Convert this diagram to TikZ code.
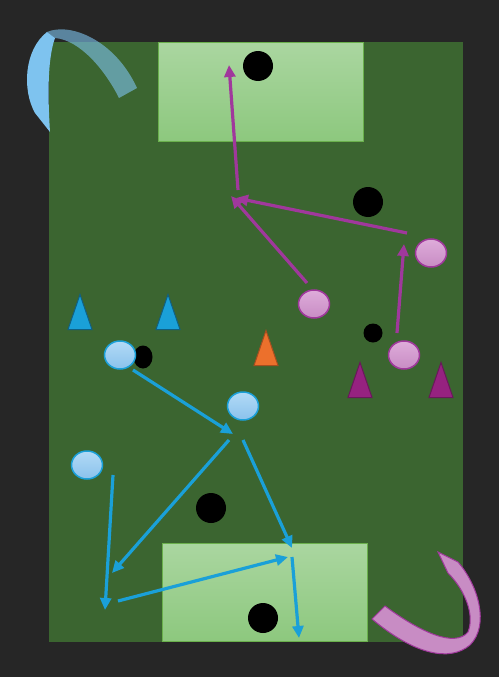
\documentclass[tikz,border=0pt]{standalone}
\usetikzlibrary{arrows.meta,shapes.geometric}

\definecolor{pitchbg}{RGB}{38,38,38}
\definecolor{grass}{RGB}{59,101,48}
\definecolor{boxtop}{RGB}{170,214,160}
\definecolor{boxbot}{RGB}{141,200,126}
\definecolor{boxline}{RGB}{106,176,76}
\definecolor{teamblue}{RGB}{26,160,216}
\definecolor{bluetop}{RGB}{178,218,246}
\definecolor{bluebot}{RGB}{138,194,236}
\definecolor{teampurple}{RGB}{160,56,156}
\definecolor{pinktop}{RGB}{222,172,218}
\definecolor{pinkbot}{RGB}{200,140,196}
\definecolor{conepurple}{RGB}{150,34,128}
\definecolor{coneorange}{RGB}{236,112,44}
\definecolor{ribbonblue}{RGB}{126,195,239}

\begin{document}
\begin{tikzpicture}[
  x=1pt, y=-1pt,
  goalbox/.style={draw=boxline, line width=1pt, top color=boxtop, bottom color=boxbot},
  ball/.style={ellipse, fill=black, inner sep=0, minimum width=30, minimum height=30},
  blueplayer/.style={ellipse, draw=teamblue, line width=1.5pt, top color=bluetop,
                     bottom color=bluebot, inner sep=0, minimum width=31, minimum height=28},
  pinkplayer/.style={ellipse, draw=teampurple, line width=1.5pt, top color=pinktop,
                     bottom color=pinkbot, inner sep=0, minimum width=31, minimum height=28},
  cone/.style={isosceles triangle, isosceles triangle stretches, shape border rotate=90,
               anchor=south, inner sep=0, minimum width=24, minimum height=35, line width=1pt},
  bluearr/.style={-{Triangle[length=12pt,width=11pt]}, teamblue, line width=3.2pt},
  purparr/.style={-{Triangle[length=12pt,width=11pt]}, teampurple, line width=3.2pt},
]
\useasboundingbox (0,0) rectangle (499,677);
\fill[pitchbg] (0,0) rectangle (499,677);

% pitch and goal areas
\fill[grass] (49,42) rectangle (463,642);
\draw[goalbox] (158,43) rectangle (363,141);
\draw[goalbox] (162,543) rectangle (367,641);

% curved arrows in the corners
\fill[ribbonblue] (35,113) .. controls (22,90) and (24,50) .. (47,32)
  -- (55,38) .. controls (47,60) and (48,100) .. (50,132) -- cycle;
\fill[ribbonblue, fill opacity=0.6] (47,32) .. controls (70,22) and (115,40) .. (137,88)
  -- (119,98) .. controls (105,70) and (80,40) .. (55,38) -- cycle;
\draw[teampurple, line width=1pt, fill=pinkbot]
  (438,552) -- (458,562) .. controls (478,585) and (490,625) .. (470,645)
  .. controls (450,662) and (415,655) .. (372,619) -- (385,606)
  .. controls (420,632) and (455,648) .. (468,632)
  .. controls (475,615) and (465,590) .. (448,573) -- cycle;

% balls
\node[ball] (ball1) at (258,66) {};
\node[ball] (ball2) at (368,202) {};
\node[ball] (ball3) at (211,508) {};
\node[ball] (ball4) at (263,618) {};
\node[ball, minimum width=19, minimum height=19] (ball5) at (373,333) {};
\node[ball, minimum width=19, minimum height=23] (ball6) at (143,357) {};

% cones
\node[cone, fill=teamblue, draw=teamblue!60!black] (c1) at (80,330) {};
\node[cone, fill=teamblue, draw=teamblue!60!black] (c2) at (168,330) {};
\node[cone, fill=coneorange, draw=coneorange!70!black] (c3) at (266,366) {};
\node[cone, fill=conepurple, draw=conepurple!70!black] (c4) at (360,398) {};
\node[cone, fill=conepurple, draw=conepurple!70!black] (c5) at (441,398) {};

% players
\node[blueplayer] (bp1) at (120,355) {};
\node[blueplayer] (bp2) at (243,406) {};
\node[blueplayer] (bp3) at (87,465) {};
\node[pinkplayer] (pp1) at (314,304) {};
\node[pinkplayer] (pp2) at (431,253) {};
\node[pinkplayer] (pp3) at (404,355) {};

% run and pass points
\coordinate (b1) at (133,370);
\coordinate (b2) at (233,434);
\coordinate (b3) at (229,440);
\coordinate (b4) at (112,573);
\coordinate (b5) at (243,440);
\coordinate (b6) at (292,548);
\coordinate (b7) at (113,475);
\coordinate (b8) at (105,610);
\coordinate (b9) at (118,601);
\coordinate (b10) at (288,557);
\coordinate (b11) at (292,557);
\coordinate (b12) at (299,638);
\coordinate (p1) at (238,190);
\coordinate (p2) at (229,65);
\coordinate (p3) at (307,283);
\coordinate (p4) at (231,196);
\coordinate (p5) at (407,233);
\coordinate (p6) at (236,198);
\coordinate (p7) at (397,333);
\coordinate (p8) at (404,244);

% blue moves
\draw[bluearr] (b1) -- (b2);
\draw[bluearr] (b3) -- (b4);
\draw[bluearr] (b5) -- (b6);
\draw[bluearr] (b7) -- (b8);
\draw[bluearr] (b9) -- (b10);
\draw[bluearr] (b11) -- (b12);

% purple moves
\draw[purparr] (p1) -- (p2);
\draw[purparr] (p3) -- (p4);
\draw[purparr] (p5) -- (p6);
\draw[purparr] (p7) -- (p8);

\end{tikzpicture}
\end{document}
